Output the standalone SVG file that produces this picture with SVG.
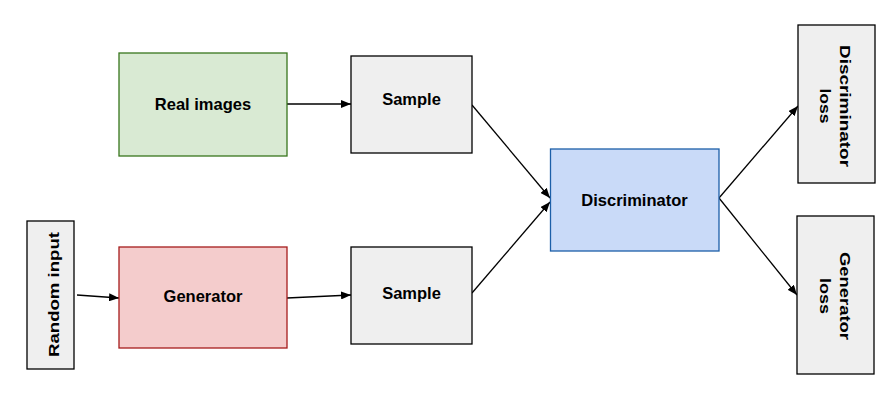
<svg xmlns="http://www.w3.org/2000/svg" width="896" height="407" viewBox="0 0 896 407">
<defs>
<marker id="ah" viewBox="0 0 10 8" refX="10" refY="4" markerWidth="10" markerHeight="8" markerUnits="userSpaceOnUse" orient="auto">
<path d="M0,0 L10,4 L0,8 z" fill="#000"/>
</marker>
<style>
text{font-family:"Liberation Sans",Arial,sans-serif;font-weight:bold;font-size:16.5px;fill:#000;text-anchor:middle}
.rot{font-size:15.5px}
.grey{fill:#efefef;stroke:#000;stroke-width:1.3}
.green{fill:#d9ead3;stroke:#38761d;stroke-width:1.3}
.red{fill:#f4cccc;stroke:#a61c1c;stroke-width:1.3}
.blue{fill:#c9daf8;stroke:#1c5fa8;stroke-width:1.3}
.con{fill:none;stroke:#000;stroke-width:1.3;marker-end:url(#ah)}
</style>
</defs>
<rect width="896" height="407" fill="#fff"/>
<g id="connectors">
<line class="con" x1="287" y1="104" x2="351" y2="104"/>
<line class="con" x1="77" y1="295" x2="119" y2="298"/>
<line class="con" x1="287" y1="298" x2="351" y2="295"/>
<line class="con" x1="472" y1="105" x2="550" y2="198"/>
<line class="con" x1="472" y1="293" x2="550" y2="202"/>
<line class="con" x1="719" y1="198" x2="798" y2="106"/>
<line class="con" x1="719" y1="198" x2="797" y2="295"/>
</g>
<g id="real-images">
<rect class="green" x="119" y="53" width="168" height="103"/>
<text x="203" y="110">Real images</text>
</g>
<g id="sample-1">
<rect class="grey" x="351" y="56" width="121" height="97"/>
<text x="411.5" y="105">Sample</text>
</g>
<g id="random-input">
<rect class="grey" x="27" y="221" width="47" height="148"/>
<text class="rot" transform="translate(58.6,294.5) rotate(-90)" textLength="125" lengthAdjust="spacingAndGlyphs">Random input</text>
</g>
<g id="generator">
<rect class="red" x="119" y="247" width="168" height="101"/>
<text x="203" y="302">Generator</text>
</g>
<g id="sample-2">
<rect class="grey" x="351" y="247" width="121" height="97"/>
<text x="411.5" y="299">Sample</text>
</g>
<g id="discriminator">
<rect class="blue" x="550.5" y="149" width="168.5" height="102"/>
<text x="634.5" y="206">Discriminator</text>
</g>
<g id="discriminator-loss">
<rect class="grey" x="798" y="25" width="77" height="158"/>
<text class="rot" transform="translate(839.5,106) rotate(90)"><tspan x="0" y="0" textLength="122" lengthAdjust="spacingAndGlyphs">Discriminator</tspan><tspan x="0" y="20" textLength="35" lengthAdjust="spacingAndGlyphs">loss</tspan></text>
</g>
<g id="generator-loss">
<rect class="grey" x="797" y="216" width="77" height="158"/>
<text class="rot" transform="translate(839.5,296) rotate(90)"><tspan x="0" y="0" textLength="88" lengthAdjust="spacingAndGlyphs">Generator</tspan><tspan x="0" y="20" textLength="36" lengthAdjust="spacingAndGlyphs">loss</tspan></text>
</g>
</svg>
